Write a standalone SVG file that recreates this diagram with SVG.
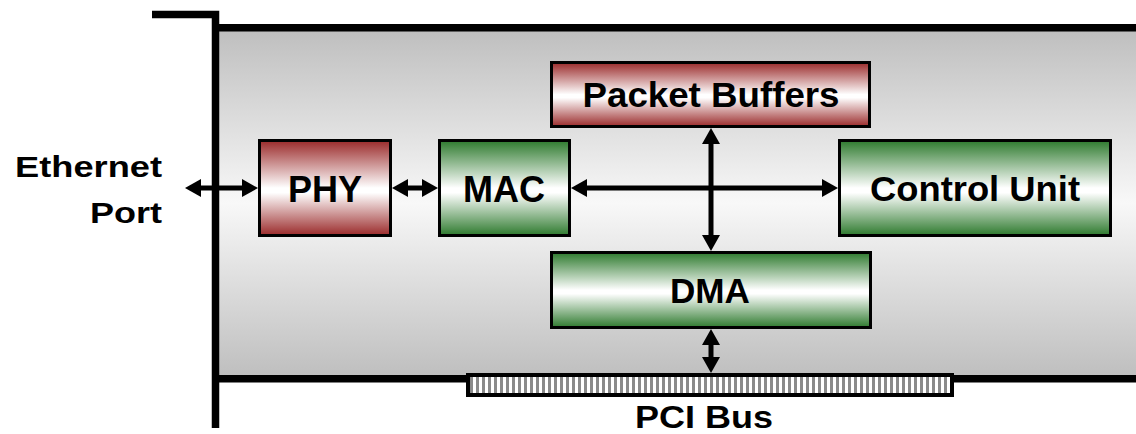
<svg xmlns="http://www.w3.org/2000/svg" width="1136" height="434" viewBox="0 0 1136 434">
  <defs>
    <linearGradient id="gPanel" x1="0" y1="0" x2="0" y2="1">
      <stop offset="0" stop-color="#bfbfbf"/>
      <stop offset="0.5" stop-color="#f8f8f8"/>
      <stop offset="1" stop-color="#bfbfbf"/>
    </linearGradient>
    <linearGradient id="gRed" x1="0" y1="0" x2="0" y2="1">
      <stop offset="0" stop-color="#9a2a2a"/>
      <stop offset="0.5" stop-color="#ffffff"/>
      <stop offset="0.55" stop-color="#ffffff"/>
      <stop offset="1" stop-color="#9a2a2a"/>
    </linearGradient>
    <linearGradient id="gGreen" x1="0" y1="0" x2="0" y2="1">
      <stop offset="0" stop-color="#2e7a2e"/>
      <stop offset="0.5" stop-color="#ffffff"/>
      <stop offset="0.55" stop-color="#ffffff"/>
      <stop offset="1" stop-color="#2e7a2e"/>
    </linearGradient>
    <pattern id="pStripes" x="470" y="0" width="6" height="10" patternUnits="userSpaceOnUse">
      <rect x="0" y="0" width="6" height="10" fill="#ffffff"/>
      <rect x="0" y="0" width="3" height="10" fill="#8a8a8a"/>
    </pattern>
    <marker id="ah" markerUnits="userSpaceOnUse" markerWidth="16" markerHeight="18" refX="6" refY="9" orient="auto-start-reverse" viewBox="0 0 16 18">
      <path d="M0,0 L16,9 L0,18 Z" fill="#000"/>
    </marker>
  </defs>
  <style>
    .box { stroke: #000; stroke-width: 3; }
    .lbl { font-family: "Liberation Sans", Arial, sans-serif; font-weight: bold; fill: #000; }
    .conn { stroke: #000; stroke-width: 5; fill: none; marker-start: url(#ah); marker-end: url(#ah); }
    .frame { stroke: #000; stroke-width: 7.5; fill: none; }
  </style>

  <g id="card">
    <rect x="219" y="31" width="917" height="344" fill="url(#gPanel)"/>
    <path class="frame" d="M152,14.5 H215.5 V428"/>
    <path class="frame" d="M212,27.8 H1136"/>
    <path class="frame" d="M212,378.8 H1136"/>
    <rect x="468" y="375" width="484" height="20" fill="url(#pStripes)" stroke="#000" stroke-width="4"/>
  </g>

  <g id="ethernet-port">
    <text class="lbl" x="162" y="177" font-size="30" text-anchor="end" textLength="147" lengthAdjust="spacingAndGlyphs">Ethernet</text>
    <text class="lbl" x="162" y="223" font-size="30" text-anchor="end" textLength="72" lengthAdjust="spacingAndGlyphs">Port</text>
  </g>

  <g id="phy">
    <rect class="box" x="259.5" y="140.5" width="131" height="95" fill="url(#gRed)"/>
    <text class="lbl" x="325" y="202" font-size="36" text-anchor="middle">PHY</text>
  </g>

  <g id="mac">
    <rect class="box" x="439.5" y="140.5" width="130" height="95" fill="url(#gGreen)"/>
    <text class="lbl" x="504" y="202" font-size="36" text-anchor="middle">MAC</text>
  </g>

  <g id="packet-buffers">
    <rect class="box" x="551.5" y="62.5" width="318" height="64" fill="url(#gRed)"/>
    <text class="lbl" x="711" y="107" font-size="35" text-anchor="middle" textLength="257" lengthAdjust="spacingAndGlyphs">Packet Buffers</text>
  </g>

  <g id="control-unit">
    <rect class="box" x="839.5" y="140.5" width="271" height="95" fill="url(#gGreen)"/>
    <text class="lbl" x="975" y="201" font-size="35" text-anchor="middle" textLength="210" lengthAdjust="spacingAndGlyphs">Control Unit</text>
  </g>

  <g id="dma">
    <rect class="box" x="551.5" y="252.5" width="319" height="75" fill="url(#gGreen)"/>
    <text class="lbl" x="710" y="303" font-size="35" text-anchor="middle" textLength="80" lengthAdjust="spacingAndGlyphs">DMA</text>
  </g>

  <g id="pci-bus">
    <text class="lbl" x="704" y="428" font-size="32" text-anchor="middle" textLength="138" lengthAdjust="spacingAndGlyphs">PCI Bus</text>
  </g>

  <g id="connectors">
    <line class="conn" x1="195" y1="188" x2="248" y2="188"/>
    <line class="conn" x1="402" y1="188" x2="428" y2="188"/>
    <line class="conn" x1="581" y1="188" x2="828" y2="188"/>
    <line class="conn" x1="711" y1="138" x2="711" y2="241"/>
    <line class="conn" x1="711" y1="339" x2="711" y2="363"/>
  </g>
</svg>
